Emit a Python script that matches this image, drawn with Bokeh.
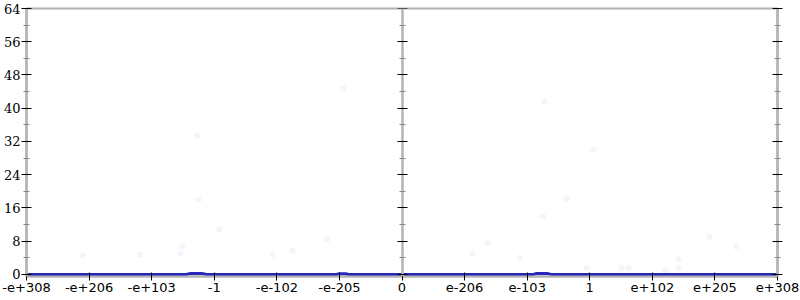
from bokeh.plotting import figure
from bokeh.models import LinearAxis, FixedTicker, Range1d
from bokeh.embed import file_html
from bokeh.resources import INLINE

# ---- data ----
tick_positions = [-6, -5, -4, -3, -2, -1, 0, 1, 2, 3, 4, 5, 6]
tick_labels = ["-e+308", "-e+206", "-e+103", "-1", "-e-102", "-e-205", "0",
               "e-206", "e-103", "1", "e+102", "e+205", "e+308"]
y_ticks = [0, 8, 16, 24, 32, 40, 48, 56, 64]
y_minor = [4, 12, 20, 28, 36, 44, 52, 60]

pt_x = [-5.10, -4.19, -3.54, -3.51, -3.27, -3.25, -2.92, -2.07, -1.75, -1.20, -0.94,
        1.13, 1.37, 1.88, 2.25, 2.28, 2.63, 3.06, 2.95, 3.51, 3.62, 4.21, 4.42, 4.42, 5.34, 4.91]
pt_y = [4.6, 4.8, 5.0, 6.7, 33.4, 18.0, 10.8, 4.8, 5.8, 8.4, 44.8,
        5.0, 7.5, 4.0, 14.0, 41.6, 18.3, 30.0, 1.5, 1.5, 1.5, 0.8, 3.6, 1.5, 6.7, 9.0]

line_x = [-6, -3.45, -3.38, -3.2, -3.12, -1.05, -1.0, -0.9, -0.85, 2.1, 2.15, 2.32, 2.38, 6]
line_y = [0, 0, 0.25, 0.25, 0, 0, 0.18, 0.18, 0, 0, 0.25, 0.25, 0, 0]

p = figure(width=800, height=300, output_backend="svg", toolbar_location=None,
           x_range=Range1d(-6, 6), y_range=Range1d(-0.5, 64),
           min_border_left=24, min_border_right=23, min_border_top=8, min_border_bottom=24,
           x_axis_location="below", y_axis_location="left")
p.grid.visible = False
p.outline_line_color = "#b0b0b0"
p.outline_line_width = 2
p.background_fill_color = "white"
p.border_fill_color = "white"

p.scatter(pt_x, pt_y, size=6, fill_color="#3030c0", fill_alpha=0.05, line_color=None)
p.line(line_x, line_y, line_color="#2828b8", line_width=3)

def style_y(ax, labels=True):
    ax.ticker = FixedTicker(ticks=y_ticks, minor_ticks=y_minor)
    ax.axis_line_color = "#b4b4b4"
    ax.axis_line_width = 2.5
    ax.major_tick_in = 5
    ax.major_tick_out = 5
    ax.major_tick_line_color = "black"
    ax.major_tick_line_width = 1
    ax.minor_tick_in = 3
    ax.minor_tick_out = 3
    ax.minor_tick_line_color = "#888888"
    ax.major_label_standoff = 1
    ax.major_label_text_font = "DejaVu Serif"
    ax.major_label_text_font_size = "13px"
    ax.major_label_text_color = "black"
    if not labels:
        ax.major_label_text_alpha = 0
        ax.major_label_text_font_size = "1px"

yax = p.yaxis[0]
style_y(yax)

right = LinearAxis()
p.add_layout(right, "right")
style_y(right, labels=False)

mid = LinearAxis(fixed_location=0)
p.add_layout(mid, "left")
style_y(mid, labels=False)

xax = p.xaxis[0]
xax.ticker = FixedTicker(ticks=tick_positions, minor_ticks=[])
xax.major_label_overrides = {t: l for t, l in zip(tick_positions, tick_labels)}
xax.axis_line_color = "#b4b4b4"
xax.axis_line_width = 2
xax.major_tick_in = 4
xax.major_tick_out = 4
xax.major_tick_line_color = "black"
xax.major_label_standoff = 2
xax.major_label_text_font = "DejaVu Sans"
xax.major_label_text_font_size = "13px"
xax.major_label_text_color = "black"

open("out.html", "w").write(file_html(p, INLINE))
